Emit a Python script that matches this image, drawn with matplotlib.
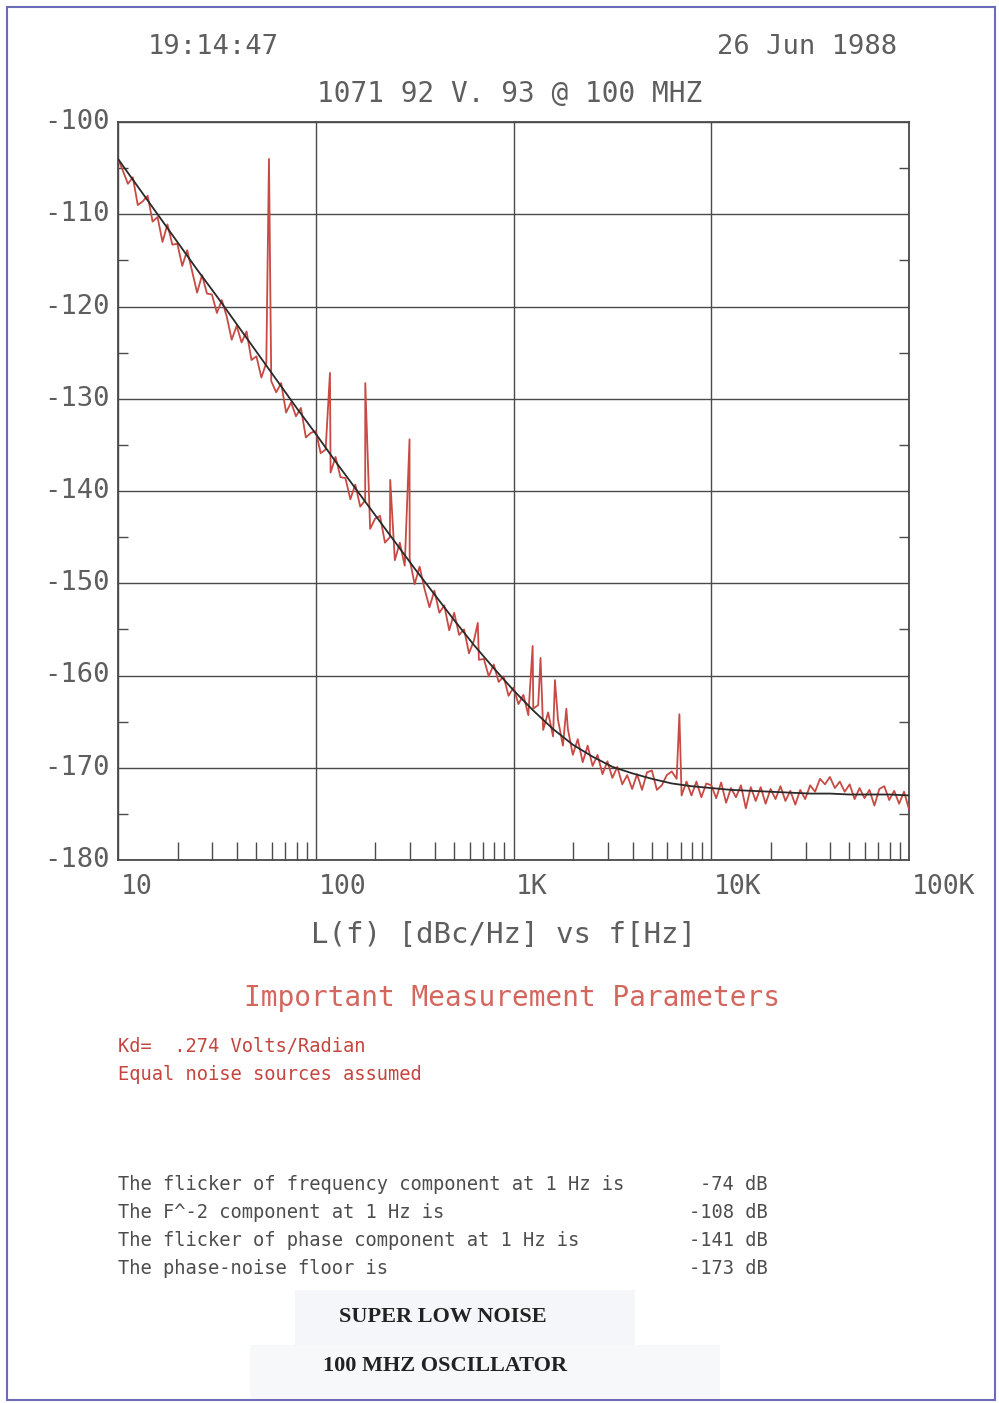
# Phase noise plot: 1071 92 v. 93 @ 100 MHz, HP plotter style

import matplotlib.pyplot as plt
import numpy as np
from matplotlib.patches import Rectangle

trace_db = [
    -104.0, -105.3, -106.7, -106.0, -109.0, -108.6, -108.0, -110.8, -110.3, -113.0,
    -111.1, -113.3, -113.2, -115.6, -113.9, -116.2, -118.5, -116.6, -118.6, -118.7,
    -120.7, -119.3, -121.1, -123.6, -122.1, -123.9, -122.7, -125.8, -125.4, -127.7,
    -126.1, -128.1, -129.3, -128.3, -131.5, -130.4, -131.9, -131.0, -134.2, -133.7,
    -133.5, -135.9, -135.5, -138.0, -136.3, -138.5, -138.6, -140.9, -139.3, -141.7,
    -141.0, -144.1, -143.0, -142.7, -145.6, -145.0, -147.5, -145.6, -148.1, -147.4,
    -150.1, -148.2, -150.6, -152.6, -150.8, -153.2, -152.4, -155.1, -153.2, -155.6,
    -155.0, -157.6, -156.2, -158.3, -158.2, -160.1, -158.8, -160.7, -160.1, -162.2,
    -161.3, -163.1, -162.1, -164.3, -163.6, -163.2, -165.9, -164.0, -166.6, -164.8,
    -167.6, -165.8, -168.6, -166.9, -169.4, -167.6, -169.8, -168.6, -170.7, -169.3,
    -171.1, -169.9, -171.8, -170.8, -172.3, -170.7, -172.4, -170.5, -170.3, -172.4,
    -171.9, -170.8, -170.4, -171.2, -173.0, -171.5, -173.0, -171.5, -173.2, -171.7,
    -171.9, -173.3, -171.6, -173.8, -172.2, -173.2, -171.9, -174.4, -172.1, -173.6,
    -172.1, -173.9, -172.3, -173.4, -172.0, -173.6, -172.5, -174.0, -172.4, -173.4,
    -171.9, -172.6, -171.2, -171.8, -171.0, -172.2, -171.5, -172.6, -171.8, -173.4,
    -172.2, -173.3, -172.4, -174.1, -172.3, -172.0, -173.5, -172.5, -173.9, -172.6,
    -174.5,
]
trace_f = np.logspace(1, 5, len(trace_db))

# discrete spurs (line harmonics etc.)
spur_f = [58, 118, 178, 238, 298, 660, 1250, 1370, 1620, 1850, 6900]
spur_db = [-104.0, -127.2, -128.3, -138.8, -134.4, -154.3, -156.8, -158.1, -160.5, -163.6, -164.2]

# fitted model curve (black), read at 0.1 decade steps
fit_db = [
    -104.0, -107.0, -110.0, -113.0, -116.0, -118.9, -121.9, -124.9, -127.9, -130.9,
    -133.8, -136.8, -139.7, -142.6, -145.5, -148.4, -151.2, -154.0, -156.7, -159.2,
    -161.6, -163.8, -165.8, -167.5, -168.8, -169.9, -170.6, -171.2, -171.7, -172.0,
    -172.2, -172.4, -172.5, -172.6, -172.7, -172.8, -172.8, -172.9, -172.9, -172.9,
    -173.0,
]
fit_f = np.logspace(1, 5, len(fit_db))

xtick_vals = [10, 100, 1000, 10000, 100000]
xtick_labels = ['10', '100', '1K', '10K', '100K']
ytick_vals = [-100, -110, -120, -130, -140, -150, -160, -170, -180]

params = ['The flicker of frequency component at 1 Hz is',
          'The F^-2 component at 1 Hz is',
          'The flicker of phase component at 1 Hz is',
          'The phase-noise floor is']
param_vals = ['-74 dB', '-108 dB', '-141 dB', '-173 dB']

grey = '#5e5e5e'
red = '#c84a44'
mono = 'DejaVu Sans Mono'

fig = plt.figure(figsize=(9.99, 14.03), dpi=100)
W, H = 999, 1403

def fx(px):
    return px / W

def fy(py):
    return 1 - py / H

# page border
fig.patches.append(Rectangle((fx(7), fy(1400)), fx(988), (1393) / H, transform=fig.transFigure,
                             fill=False, edgecolor='#6b6bb8', lw=1.5))
# faint pasted label background
fig.patches.append(Rectangle((fx(295), fy(1345)), fx(340), 55 / H, transform=fig.transFigure,
                             facecolor='#f4f6f9', edgecolor='none'))
fig.patches.append(Rectangle((fx(250), fy(1398)), fx(470), 53 / H, transform=fig.transFigure,
                             facecolor='#f7f8fa', edgecolor='none'))

ax = fig.add_axes([fx(118), fy(860), fx(791), 738 / H])
ax.set_xscale('log')
ax.set_xlim(10, 1e5)
ax.set_ylim(-180, -100)

# merge spurs into the trace
all_f = np.concatenate([trace_f, spur_f])
all_db = np.concatenate([trace_db, spur_db])
order = np.argsort(all_f)
ax.plot(all_f[order], all_db[order], color=red, lw=1.3, zorder=3)
ax.plot(fit_f, fit_db, color='#2a2a2a', lw=1.3, zorder=4)

ax.grid(True, which='major', color='#4a4a4a', lw=1.0)
for s in ax.spines.values():
    s.set_color('#4a4a4a')
    s.set_linewidth(1.3)

ax.set_xticks(xtick_vals)
ax.set_xticklabels([])
ax.set_yticks(ytick_vals)
ax.set_yticklabels([])
ax.tick_params(which='major', length=0)
ax.set_yticks(np.arange(-175, -100, 10), minor=True)
ax.tick_params(axis='y', which='minor', direction='in', length=7, width=1.0,
               color='#4a4a4a', left=True, right=True)
ax.tick_params(axis='x', which='minor', direction='in', length=13, width=1.0,
               color='#4a4a4a', bottom=True, top=False, labelbottom=False)

# tick labels as plotter text
for v, lab in zip(xtick_vals, xtick_labels):
    ax.annotate(lab, (v, -180), xytext=(2, -10), textcoords='offset points',
                ha='left', va='top', fontsize=19, color=grey, family=mono)
for v in ytick_vals:
    ax.annotate(str(v), (10, v), xytext=(-6, 0), textcoords='offset points',
                ha='right', va='center', fontsize=19.5, color=grey, family=mono)

fig.text(fx(148), fy(47), '19:14:47', ha='left', va='center', fontsize=19.5, color=grey, family=mono)
fig.text(fx(897), fy(47), '26 Jun 1988', ha='right', va='center', fontsize=19.5, color=grey, family=mono)
fig.text(fx(510), fy(94), '1071 92 V. 93 @ 100 MHZ', ha='center', va='center', fontsize=20,
         color=grey, family=mono)
fig.text(fx(504), fy(935), 'L(f) [dBc/Hz] vs f[Hz]', ha='center', va='center', fontsize=21,
         color=grey, family=mono)

fig.text(fx(512), fy(998), 'Important Measurement Parameters', ha='center', va='center',
         fontsize=20, color='#d4665e', family=mono)
fig.text(fx(118), fy(1046), 'Kd=  .274 Volts/Radian', ha='left', va='center', fontsize=13.5,
         color='#c4463f', family=mono)
fig.text(fx(118), fy(1075), 'Equal noise sources assumed', ha='left', va='center', fontsize=13.5,
         color='#c4463f', family=mono)

for i, (p, v) in enumerate(zip(params, param_vals)):
    y = 1185 + i * 28
    fig.text(fx(118), fy(y), p, ha='left', va='center', fontsize=13.5, color='#4d4d4d', family=mono)
    fig.text(fx(768), fy(y), v, ha='right', va='center', fontsize=13.5, color='#4d4d4d', family=mono)

fig.text(fx(443), fy(1317), 'SUPER LOW NOISE', ha='center', va='center', fontsize=16,
         fontweight='bold', color='#222222', family='Liberation Serif')
fig.text(fx(445), fy(1366), '100 MHZ OSCILLATOR', ha='center', va='center', fontsize=16,
         fontweight='bold', color='#222222', family='Liberation Serif')

fig.savefig('out.png', dpi=100)
